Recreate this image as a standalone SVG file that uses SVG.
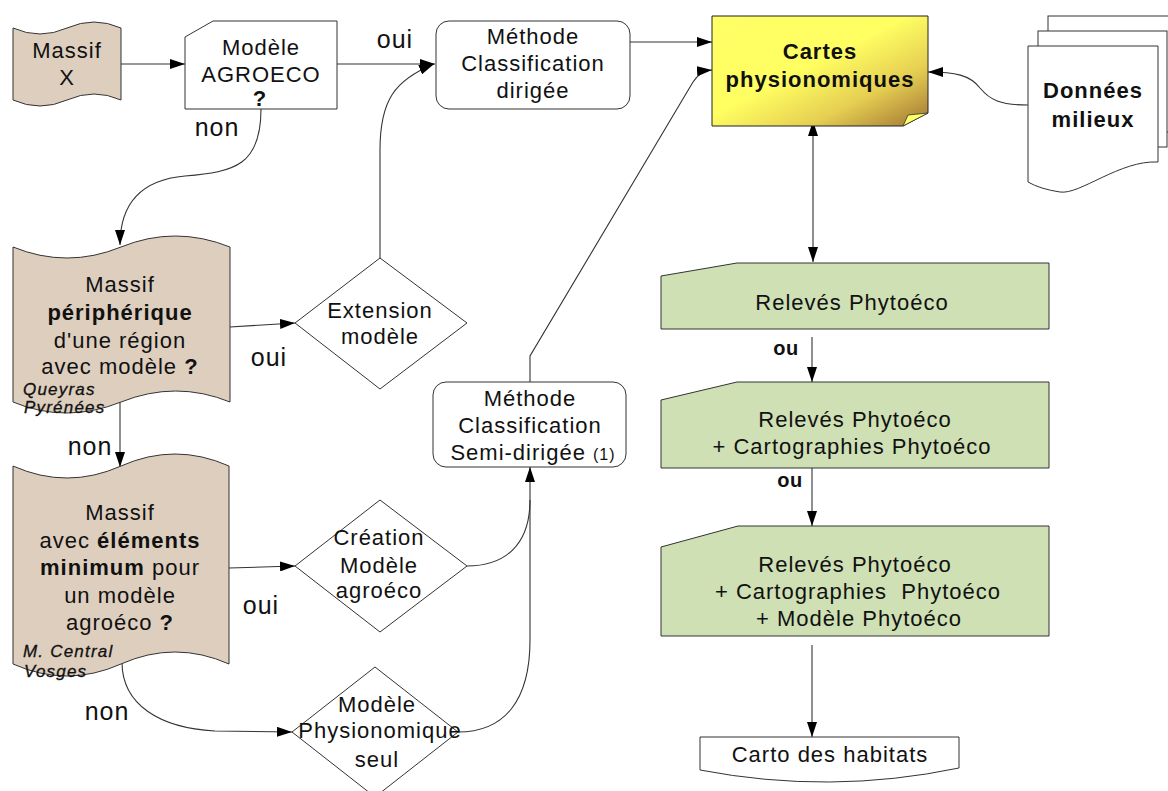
<svg xmlns="http://www.w3.org/2000/svg" width="1168" height="791" viewBox="0 0 1168 791">
<style>
text{font-family:"Liberation Sans",Arial,sans-serif;fill:#111;text-anchor:middle}
.t{font-size:22px;letter-spacing:1px}
.b{font-weight:bold}
.lbl{font-size:25px;letter-spacing:1px}
.ou{font-size:20px;font-weight:bold;letter-spacing:0.5px}
.it{font-size:17px;font-style:italic;text-anchor:start;letter-spacing:1.2px;stroke:#111;stroke-width:0.3px}
.tape{fill:#DDCEBE;stroke:#333;stroke-width:1}
.wh{fill:#fff;stroke:#333;stroke-width:1}
.gr{fill:#CEE0B4;stroke:#333;stroke-width:1}
.c{fill:none;stroke:#333;stroke-width:1.1}
.a{marker-end:url(#ah)}
</style>
<defs>
<marker id="ah" viewBox="0 0 15 10" refX="15" refY="5" markerWidth="15" markerHeight="10" markerUnits="userSpaceOnUse" orient="auto-start-reverse">
<path d="M0,0 L15,5 L0,10 z" fill="#000"/>
</marker>
<linearGradient id="gold" x1="0" y1="0" x2="1" y2="1">
<stop offset="0" stop-color="#FFFF66"/>
<stop offset="0.45" stop-color="#FFFF62"/>
<stop offset="0.72" stop-color="#E6CF52"/>
<stop offset="1" stop-color="#A07434"/>
</linearGradient>
</defs>

<g id="connectors">
<path class="c a" d="M121,64 H185"/>
<path class="c a" d="M337,64 H435"/>
<path class="c a" d="M380,258 V150 C380,100 395,80 434,64"/>
<path class="c a" d="M630,42 H712"/>
<path class="c a" d="M530,382 V356 L693,82 Q700,71 712,70"/>
<path class="c a" d="M1028,105 C1000,105 990,100 980,88 C970,75 955,72 928,72"/>
<path class="c a" d="M813,262 V121" style="marker-start:url(#ah)"/>
<path class="c a" d="M812,337 V382"/>
<path class="c a" d="M812,468 V526"/>
<path class="c a" d="M812,645 V737"/>
<path class="c a" d="M261,109 C261,165 235,172 185,176 C140,180 120,205 120,245"/>
<path class="c a" d="M230,327 L295,323"/>
<path class="c a" d="M120,402 V467"/>
<path class="c a" d="M229,568 L295,566"/>
<path class="c a" d="M467,566 C505,566 530,545 530,500 V467"/>
<path class="c a" d="M122,662 C122,705 160,728 215,731 L292,732"/>
<path class="c" d="M458,732 C505,732 530,700 530,640 V500"/>
<text class="lbl" x="395" y="48">oui</text>
<text class="lbl" x="217" y="136">non</text>
<text class="lbl" x="269" y="366">oui</text>
<text class="lbl" x="90" y="455">non</text>
<text class="lbl" x="261" y="614">oui</text>
<text class="lbl" x="107" y="720">non</text>
<text class="ou" x="786" y="355">ou</text>
<text class="ou" x="790" y="487">ou</text>
</g>

<g id="massif-x">
<path class="tape" d="M13,28 Q40,40 67,28 T121,28 V100 Q94,88 67,100 T13,100 Z"/>
<text class="t" x="67" y="58">Massif</text>
<text class="t" x="67" y="85">X</text>
</g>

<g id="modele-agroeco">
<path class="wh" d="M185,37 L213,21 H337 V109 H185 Z"/>
<text class="t" x="261" y="55">Modèle</text>
<text class="t" x="261" y="82">AGROECO</text>
<text class="t b" x="260" y="106">?</text>
</g>

<g id="methode-dirigee">
<rect class="wh" x="436" y="21" width="194" height="88" rx="13"/>
<text class="t" x="533" y="44">Méthode</text>
<text class="t" x="533" y="71">Classification</text>
<text class="t" x="533" y="98">dirigée</text>
</g>

<g id="cartes">
<path d="M712,16 H928 V113 L903,126 H712 Z" fill="url(#gold)" stroke="#222" stroke-width="1"/>
<polygon points="903,126 928,113 908,115" fill="#FFFF66" stroke="#333" stroke-width="0.8"/>
<text class="t b" x="820" y="59">Cartes</text>
<text class="t b" x="820" y="87">physionomiques</text>
</g>

<g id="donnees">
<rect class="wh" x="1048" y="16" width="130" height="116"/>
<rect class="wh" x="1038" y="31" width="129" height="116"/>
<path class="wh" d="M1028,46 H1158 V162 C1120,160 1080,195 1060,192 Q1040,189 1028,182 Z"/>
<text class="t b" x="1093" y="98">Données</text>
<text class="t b" x="1093" y="127">milieux</text>
</g>

<g id="massif-peripherique">
<path class="tape" d="M13,247 Q67,269 121,247 T230,247 V402 Q176,380 121,402 T13,402 Z"/>
<text class="t" x="120" y="292">Massif</text>
<text class="t b" x="120" y="320">périphérique</text>
<text class="t" x="120" y="348">d'une région</text>
<text class="t" x="120" y="374">avec modèle <tspan class="b">?</tspan></text>
<text class="it" x="23" y="395">Queyras</text>
<text class="it" x="24" y="413">Pyrénées</text>
</g>

<g id="extension">
<polygon class="wh" points="295,323 380,258 467,323 380,389"/>
<text class="t" x="380" y="318">Extension</text>
<text class="t" x="380" y="344">modèle</text>
</g>

<g id="massif-elements">
<path class="tape" d="M13,466 Q67,490 121,466 T229,466 V664 Q175,640 121,664 T13,664 Z"/>
<text class="t" x="120" y="520">Massif</text>
<text class="t" x="120" y="548">avec <tspan class="b">éléments</tspan></text>
<text class="t" x="120" y="575"><tspan class="b">minimum</tspan> pour</text>
<text class="t" x="120" y="603">un modèle</text>
<text class="t" x="120" y="630">agroéco <tspan class="b">?</tspan></text>
<text class="it" x="23" y="657">M. Central</text>
<text class="it" x="24" y="677">Vosges</text>
</g>

<g id="methode-semi-dirigee">
<rect class="wh" x="433" y="382" width="193" height="85" rx="13"/>
<text class="t" x="530" y="406">Méthode</text>
<text class="t" x="530" y="433">Classification</text>
<text class="t" x="533" y="460">Semi-dirigée <tspan style="font-size:16px">(1)</tspan></text>
</g>

<g id="creation">
<polygon class="wh" points="295,566 380,500 467,566 380,632"/>
<text class="t" x="379" y="545">Création</text>
<text class="t" x="379" y="573">Modèle</text>
<text class="t" x="379" y="598">agroéco</text>
</g>

<g id="physionomique">
<polygon class="wh" points="292,732 375,667 458,732 375,797"/>
<text class="t" x="377" y="712">Modèle</text>
<text class="t" x="380" y="738">Physionomique</text>
<text class="t" x="377" y="767">seul</text>
</g>

<g id="releves-1">
<path class="gr" d="M661,276 L737,263 H1049 V329 H661 Z"/>
<text class="t" x="852" y="310">Relevés Phytoéco</text>
</g>

<g id="releves-2">
<path class="gr" d="M661,400 L737,382 H1049 V468 H661 Z"/>
<text class="t" x="855" y="427">Relevés Phytoéco</text>
<text class="t" x="852" y="454">+ Cartographies Phytoéco</text>
</g>

<g id="releves-3">
<path class="gr" d="M661,547 L738,526 H1049 V636 H661 Z"/>
<text class="t" x="855" y="572">Relevés Phytoéco</text>
<text class="t" x="858" y="599" xml:space="preserve">+ Cartographies  Phytoéco</text>
<text class="t" x="859" y="626">+ Modèle Phytoéco</text>
</g>

<g id="carto-habitats">
<path class="wh" d="M700,737 H959 V768 Q830,795 700,770 Z"/>
<text class="t" x="830" y="762">Carto des habitats</text>
</g>
</svg>
